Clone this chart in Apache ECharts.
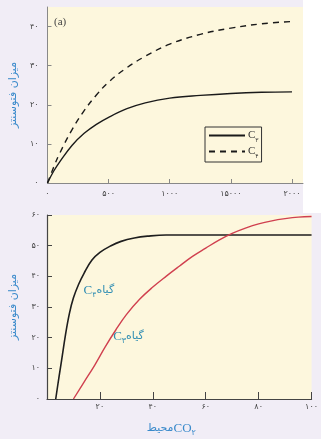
<!DOCTYPE html>
<html>
<head>
<meta charset="utf-8">
<script src="https://cdn.jsdelivr.net/npm/echarts@6/dist/echarts.min.js"></script>
<style>
  html, body { margin: 0; padding: 0; background: #fff; }
  #chart { width: 321px; height: 439px; }
</style>
</head>
<body>
<div id="chart"></div>
<script>
// panel (a)
var topX = [0, 50, 100, 200, 300, 400, 500, 650, 800, 1000, 1250, 1500, 1750, 2000];
var topC3 = [0, 3, 5.4, 9.6, 12.7, 15, 16.8, 19, 20.5, 21.7, 22.4, 22.9, 23.2, 23.3];
var topC4 = [0, 4, 7.6, 13.6, 18.5, 22.5, 25.8, 29.5, 32.4, 35.5, 38, 39.6, 40.7, 41.3];
var topXTicks = [0, 500, 1000, 1500, 2000];
var topXLabels = ["۰", "۵۰۰", "۱۰۰۰", "۱۵۰۰۰", "۲۰۰۰"];
var topYTicks = [0, 10, 20, 30, 40];

// panel (b)
var c4X = [3.3, 4.5, 5.5, 7, 8.5, 10, 12, 14, 17, 20, 24, 28, 33, 38, 45, 55, 70, 85, 100];
var c4Y = [0, 7, 12.5, 21, 28, 33, 37.5, 41, 45.3, 47.8, 49.9, 51.4, 52.5, 53.1, 53.5, 53.5, 53.5, 53.5, 53.5];
var c3X = [10, 14, 18, 22, 26, 30, 35, 40, 45, 50, 55, 60, 65, 70, 75, 80, 85, 90, 95, 100];
var c3Y = [0, 5.5, 11, 17, 22.5, 27.5, 32.5, 36.5, 40, 43.3, 46.5, 49.2, 51.8, 54, 55.7, 57.1, 58.1, 58.8, 59.3, 59.5];
var botXTicks = [20, 40, 60, 80, 100];
var botYTicks = [0, 10, 20, 30, 40, 50, 60];

function fa(v) {
  return String(v).replace(/\d/g, function (d) { return "۰۱۲۳۴۵۶۷۸۹"[d]; });
}
function pairs(xs, ys) {
  return xs.map(function (x, i) { return [x, ys[i]]; });
}

var FA = "DejaVu Sans";
var LAT = "Liberation Serif";
var blue = "#3a8acb";
var teal = "#2f8db3";
var cream = "#fdf7dd";

var subRich = function (color, size) {
  return {
    c: { fontFamily: LAT, fontSize: size, color: color, lineHeight: size + 4, verticalAlign: "middle" },
    s: { fontFamily: FA, fontSize: size - 5, color: color, lineHeight: size + 4, verticalAlign: "bottom" },
    p: { fontFamily: FA, fontSize: size - 2, color: color, lineHeight: size + 4, verticalAlign: "middle" },
  };
};

var chart = echarts.init(document.getElementById("chart"));
chart.setOption({
  backgroundColor: "#f1edf6",
  animation: false,
  title: {
    text: "(a)",
    left: 54,
    top: 17,
    padding: 0,
    textStyle: { fontFamily: LAT, fontSize: 11, fontWeight: "normal", color: "#444" },
  },
  graphic: [
    {
      type: "rect",
      shape: { x: 303, y: 0, width: 18, height: 213 },
      style: { fill: "#ffffff" },
    },
  ],
  legend: {
    data: ["C3", "C4"],
    orient: "vertical",
    left: 205,
    top: 127,
    padding: [3, 3, 3, 3],
    itemGap: 3,
    itemWidth: 36,
    itemHeight: 10,
    borderColor: "#333",
    borderWidth: 1,
    backgroundColor: cream,
    itemStyle: { opacity: 0 },
    formatter: function (name) {
      return name === "C3" ? "{c|C}{s|۳}" : "{c|C}{s|۴}";
    },
    textStyle: { padding: [0, 0, 0, -2], rich: subRich("#333", 11) },
  },
  grid: [
    { left: 43, top: 7, width: 260, height: 176, show: true, backgroundColor: cream, borderWidth: 0 },
    { left: 43, top: 215, width: 269, height: 184, show: true, backgroundColor: cream, borderWidth: 0 },
  ],
  xAxis: [
    {
      gridIndex: 0,
      type: "value",
      min: 0,
      max: 2090,
      splitLine: { show: false },
      axisLine: { lineStyle: { color: "#888", width: 1 } },
      axisTick: { inside: true, length: 4, customValues: topXTicks, lineStyle: { color: "#888" } },
      axisLabel: {
        customValues: topXTicks,
        margin: 7,
        fontFamily: FA,
        fontSize: 8,
        color: "#444",
        formatter: function (v) { return topXLabels[topXTicks.indexOf(v)]; },
      },
    },
    {
      gridIndex: 1,
      type: "value",
      min: 0,
      max: 100,
      interval: 20,
      splitLine: { show: false },
      axisLine: { lineStyle: { color: "#444", width: 1.2 } },
      axisTick: { inside: true, length: 7, customValues: botXTicks, lineStyle: { color: "#444" } },
      axisLabel: {
        customValues: botXTicks,
        margin: 4,
        fontFamily: FA,
        fontSize: 8,
        color: "#444",
        formatter: fa,
      },
      name: "{p|محیط}{c|CO}{s|۲}",
      nameLocation: "middle",
      nameGap: 21,
      nameTextStyle: { padding: [0, 16, 0, 0], rich: subRich(blue, 13) },
    },
  ],
  yAxis: [
    {
      gridIndex: 0,
      type: "value",
      min: 0,
      max: 45,
      splitLine: { show: false },
      axisLine: { show: true, lineStyle: { color: "#888", width: 1 } },
      axisTick: { show: true, inside: true, length: 4, customValues: topYTicks, lineStyle: { color: "#888" } },
      axisLabel: {
        customValues: topYTicks,
        margin: 9,
        fontFamily: FA,
        fontSize: 8,
        color: "#444",
        formatter: fa,
      },
      name: "میزان فتوسنتز",
      nameLocation: "middle",
      nameGap: 28,
      nameTextStyle: { fontFamily: FA, fontSize: 11, color: blue },
    },
    {
      gridIndex: 1,
      type: "value",
      min: 0,
      max: 60,
      interval: 10,
      splitLine: { show: false },
      axisLine: { show: true, lineStyle: { color: "#444", width: 1.2 } },
      axisTick: { show: true, inside: true, length: 5, customValues: botYTicks, lineStyle: { color: "#444" } },
      axisLabel: {
        customValues: botYTicks,
        margin: 7,
        fontFamily: FA,
        fontSize: 8,
        color: "#444",
        formatter: fa,
      },
      name: "میزان فتوسنتز",
      nameLocation: "middle",
      nameGap: 28,
      nameTextStyle: { fontFamily: FA, fontSize: 11, color: blue },
    },
  ],
  series: [
    {
      name: "C3",
      type: "line",
      xAxisIndex: 0,
      yAxisIndex: 0,
      data: pairs(topX, topC3),
      smooth: 0.4,
      symbol: "none",
      lineStyle: { color: "#1a1a1a", width: 1.4 },
      itemStyle: { color: "#1a1a1a" },
    },
    {
      name: "C4",
      type: "line",
      xAxisIndex: 0,
      yAxisIndex: 0,
      data: pairs(topX, topC4),
      smooth: 0.4,
      symbol: "none",
      lineStyle: { color: "#1a1a1a", width: 1.4, type: [6, 5] },
      itemStyle: { color: "#1a1a1a" },
    },
    {
      name: "plantC4",
      type: "line",
      xAxisIndex: 1,
      yAxisIndex: 1,
      data: pairs(c4X, c4Y),
      smooth: 0.4,
      symbol: "none",
      lineStyle: { color: "#1e1e1e", width: 1.6 },
      markPoint: {
        symbol: "circle",
        symbolSize: 0,
        data: [{ coord: [13.8, 35.5] }],
        label: {
          show: true,
          position: "right",
          distance: 0,
          formatter: "{c|C}{s|۴}{p|گیاه}",
          rich: subRich(teal, 13),
        },
      },
    },
    {
      name: "plantC3",
      type: "line",
      xAxisIndex: 1,
      yAxisIndex: 1,
      data: pairs(c3X, c3Y),
      smooth: 0.4,
      symbol: "none",
      lineStyle: { color: "#d0404f", width: 1.4 },
      markPoint: {
        symbol: "circle",
        symbolSize: 0,
        data: [{ coord: [25, 20.5] }],
        label: {
          show: true,
          position: "right",
          distance: 0,
          formatter: "{c|C}{s|۳}{p|گیاه}",
          rich: subRich(teal, 13),
        },
      },
    },
  ],
});
</script>
</body>
</html>
